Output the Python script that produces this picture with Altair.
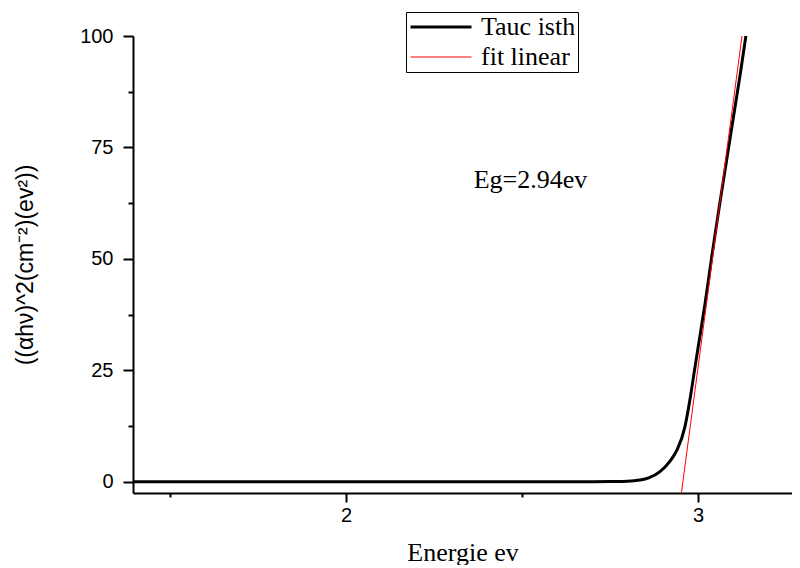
import altair as alt
import pandas as pd

# Tauc plot data
energy_tauc = [1.395, 1.60, 1.80, 2.00, 2.20, 2.40, 2.60, 2.70, 2.75, 2.80, 2.835,
               2.86, 2.892, 2.92, 2.94, 2.963, 2.977, 2.99, 3.00, 3.02, 3.04,
               3.06, 3.08, 3.10, 3.12, 3.136]
tauc_vals = [0, 0, 0, 0, 0, 0, 0, 0.03, 0.06, 0.12, 0.4,
             0.9, 2.3, 4.6, 7.1, 12.4, 18.4, 25, 30, 40, 51,
             61.5, 71.5, 81.5, 91.5, 100]

# linear fit
energy_fit = [2.953, 3.125]
fit_vals = [-2.4, 100]

series_names = ["Tauc isth", "fit linear"]
series_colors = ["black", "red"]
series_widths = [3, 1]

x_ticks = [1.5, 2, 2.5, 3]
y_ticks = [0, 12.5, 25, 37.5, 50, 62.5, 75, 87.5, 100]

annot_x = [2.524]
annot_y = [65.9]
annot_text = ["Eg=2.94ev"]

df = pd.concat([
    pd.DataFrame({"energy": energy_tauc, "val": tauc_vals, "series": series_names[0], "order": range(len(energy_tauc))}),
    pd.DataFrame({"energy": energy_fit, "val": fit_vals, "series": series_names[1], "order": range(len(energy_fit))}),
])
annot = pd.DataFrame({"energy": annot_x, "val": annot_y, "text": annot_text})

x_scale = alt.Scale(domain=[1.395, 3.267], nice=False, zero=False)
y_scale = alt.Scale(domain=[-2.5, 100], nice=False, zero=False)

x_axis = alt.Axis(
    title="Energie ev", values=x_ticks,
    labelExpr="datum.value % 1 === 0 ? format(datum.value, 'd') : ''",
    tickSize={"condition": {"test": "datum.value % 1 === 0", "value": 9}, "value": 4},
    labelPadding=3, labelFont="Liberation Sans", labelFontSize=20,
    titleFont="Liberation Serif", titleFontSize=26, titleFontWeight="normal",
    titlePadding=14, grid=False,
)
y_axis = alt.Axis(
    title="((αhν)^2(cm⁻²)(ev²))", values=y_ticks,
    labelExpr="datum.value % 25 === 0 ? format(datum.value, 'd') : ''",
    tickSize={"condition": {"test": "datum.value % 25 === 0", "value": 10}, "value": 5},
    labelPadding=10, labelFont="Liberation Sans", labelFontSize=20,
    titleFont="Liberation Sans", titleFontSize=23, titleFontWeight="normal",
    titlePadding=42, grid=False,
)

legend = alt.Legend(
    title=None, orient="none", legendX=273, legendY=-24,
    symbolType="stroke", symbolSize=3721, clipHeight=26,
    padding=2, rowPadding=4, symbolOffset=1, labelOffset=8,
    labelFont="Liberation Serif", labelFontSize=26, labelColor="black",
    strokeColor="black", fillColor="white",
)

lines = alt.Chart(df).mark_line(interpolate="monotone").encode(
    x=alt.X("energy:Q", scale=x_scale, axis=x_axis),
    y=alt.Y("val:Q", scale=y_scale, axis=y_axis),
    color=alt.Color("series:N", scale=alt.Scale(domain=series_names, range=series_colors), legend=legend),
    strokeWidth=alt.StrokeWidth("series:N", scale=alt.Scale(domain=series_names, range=series_widths), legend=legend),
    order="order:Q",
)

text = alt.Chart(annot).mark_text(
    font="Liberation Serif", fontSize=26, align="center", baseline="alphabetic", color="black"
).encode(
    x=alt.X("energy:Q", scale=x_scale),
    y=alt.Y("val:Q", scale=y_scale),
    text="text:N",
)

chart = alt.layer(lines, text).properties(
    width=659, height=457,
    autosize=alt.AutoSizeParams(type="none"),
    padding={"left": 125, "top": 28, "right": 0, "bottom": 72},
).configure_view(strokeWidth=0).configure_axis(
    domainColor="black", domainWidth=2, tickColor="black", tickWidth=2,
    labelColor="black", titleColor="black",
)

chart.save("out.html", embed_options={"renderer": "svg", "actions": False})
